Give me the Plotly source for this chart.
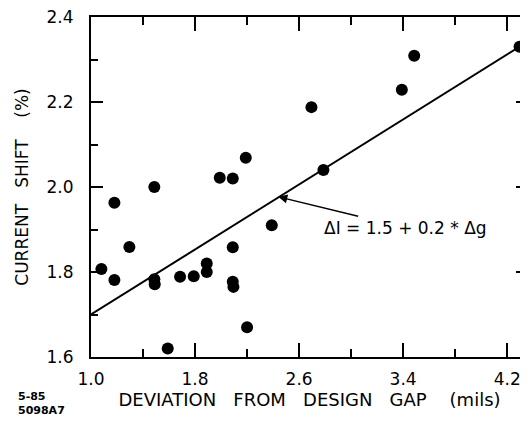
import plotly.graph_objects as go

# data points
gap_dev = [1.08, 1.18, 1.18, 1.295, 1.487, 1.487, 1.49, 1.59, 1.685, 1.79, 1.89, 1.89,
           1.99, 2.09, 2.09, 2.09, 2.095, 2.19, 2.2, 2.39, 2.695, 2.787, 3.39, 3.485, 4.295]
current_shift = [1.807, 1.963, 1.781, 1.859, 2.0, 1.783, 1.771, 1.62, 1.789, 1.79, 1.82, 1.80,
                 2.022, 2.02, 1.858, 1.777, 1.765, 2.069, 1.67, 1.91, 2.188, 2.04, 2.229, 2.309, 2.33]

fit_x = [1.0, 4.33]
fit_y = [1.70, 2.337]

Y_RANGE = [1.6, 2.4001]
FONT = "DejaVu Sans"

fig = go.Figure()
fig.add_trace(go.Scatter(x=fit_x, y=fit_y, mode="lines",
                         line=dict(color="black", width=2), showlegend=False))
fig.add_trace(go.Scatter(x=gap_dev, y=current_shift, mode="markers",
                         marker=dict(color="black", size=12), showlegend=False,
                         cliponaxis=False))

fig.add_annotation(x=2.44, y=1.977, text="ΔI = 1.5 + 0.2 * Δg",
                   showarrow=True, arrowhead=2, arrowsize=1.2, arrowwidth=1.5,
                   arrowcolor="black", ax=127, ay=31, xanchor="center",
                   font=dict(family=FONT, size=17, color="black"))

fig.add_annotation(x=-0.172, y=-0.136, xref="paper", yref="paper", yanchor="middle",
                   xanchor="left", text="<b>5-85<br>5098A7</b>", showarrow=False,
                   align="left", font=dict(family=FONT, size=11, color="black"))

fig.update_layout(
    width=520, height=408,
    margin=dict(l=83, r=0, t=9, b=59, autoexpand=False),
    paper_bgcolor="white", plot_bgcolor="white",
    font=dict(family=FONT, size=17, color="black"),
    xaxis=dict(range=[1.0, 4.36], tick0=1.0, dtick=0.8, ticklen=14,
               ticklabelstandoff=6, ticks="inside", tickwidth=1.5, tickcolor="black",
               showline=True, linecolor="black", linewidth=2, mirror="ticks",
               showgrid=False, zeroline=False, tickformat=".1f",
               tickfont=dict(size=17), ticklabeloverflow="allow",
               minor=dict(dtick=0.4, tick0=1.0, ticklen=8, ticks="inside",
                          tickwidth=1.5, tickcolor="black", showgrid=False),
               title=dict(text="DEVIATION   FROM   DESIGN   GAP    (mils)", standoff=1,
                          font=dict(size=18))),
    yaxis=dict(range=Y_RANGE, tick0=1.6, dtick=0.2, ticklen=12,
               ticklabelstandoff=12, ticks="inside", tickwidth=1.5, tickcolor="black",
               showline=True, linecolor="black", linewidth=2, mirror="ticks",
               showgrid=False, zeroline=False, tickformat=".1f",
               tickfont=dict(size=17), ticklabeloverflow="allow",
               minor=dict(dtick=0.1, tick0=1.6, ticklen=7, ticks="inside",
                          tickwidth=1.5, tickcolor="black", showgrid=False),
               title=dict(text="CURRENT   SHIFT    (%)", standoff=14,
                          font=dict(size=17))),
)

fig.write_html("out.html")
